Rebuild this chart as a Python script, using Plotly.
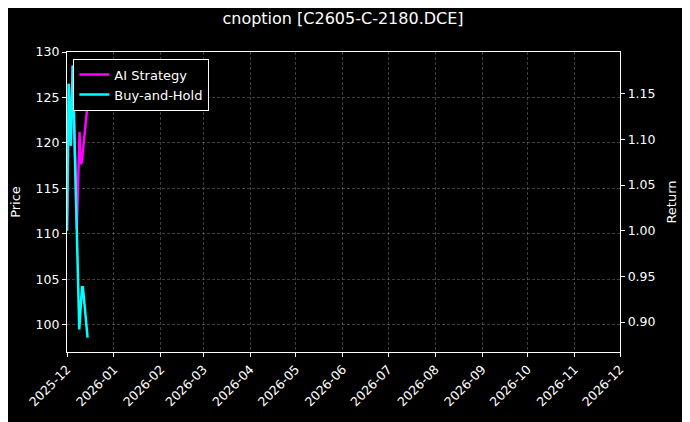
import plotly.graph_objects as go

# buy-and-hold return curve
bh_dates = ["2025-12-01 00:00", "2025-12-02 04:00", "2025-12-03 12:00", "2025-12-04 19:00",
            "2025-12-09 02:00", "2025-12-10 22:00", "2025-12-11 12:00", "2025-12-14 14:00"]
bh_values = [1.000, 1.161, 1.093, 1.181, 0.892, 0.938, 0.938, 0.883]

# AI strategy return curve (tracks buy-and-hold until it splits off)
ai_dates = ["2025-12-01 00:00", "2025-12-02 04:00", "2025-12-03 12:00", "2025-12-04 19:00",
            "2025-12-07 11:00", "2025-12-09 07:00", "2025-12-10 00:00", "2025-12-10 19:00",
            "2025-12-14 14:00"]
ai_values = [1.000, 1.161, 1.093, 1.181, 1.002, 1.108, 1.073, 1.075, 1.139]

month_ticks = ["2025-12-01", "2026-01-01", "2026-02-01", "2026-03-01", "2026-04-01",
               "2026-05-01", "2026-06-01", "2026-07-01", "2026-08-01", "2026-09-01",
               "2026-10-01", "2026-11-01", "2026-12-01"]
month_labels = [t[:7] for t in month_ticks]
price_ticks = [100, 105, 110, 115, 120, 125, 130]
return_ticks = [0.90, 0.95, 1.00, 1.05, 1.10, 1.15]

font = dict(family="DejaVu Sans", color="white", size=12.5)
grid = "rgba(150,150,150,0.4)"

# page has an 8px body margin, so everything is shifted up/left by 8px
fig = go.Figure()
# empty trace so the price axis is drawn
fig.add_trace(go.Scatter(x=[bh_dates[0]], y=[None], mode="lines", showlegend=False,
                         hoverinfo="skip", yaxis="y"))
fig.add_trace(go.Scatter(x=ai_dates, y=ai_values, name="AI Strategy", mode="lines",
                         line=dict(color="#ff00ff", width=2.5), yaxis="y2"))
fig.add_trace(go.Scatter(x=bh_dates, y=bh_values, name="Buy-and-Hold", mode="lines",
                         line=dict(color="#00ffff", width=2.5), yaxis="y2"))

fig.update_layout(
    width=690, height=422,
    paper_bgcolor="black", plot_bgcolor="black",
    font=font,
    margin=dict(l=59, r=78, t=44, b=78),
    title=dict(text="cnoption [C2605-C-2180.DCE]", x=(343 - 8) / 690, xanchor="center",
               y=1 - 10 / 422, yanchor="middle", font=dict(size=16, color="white")),
    showlegend=True,
    legend=dict(x=0.0115, y=0.978, xanchor="left", yanchor="top",
                bgcolor="black", bordercolor="white", borderwidth=1,
                font=dict(size=13, color="white"), tracegroupgap=0),
    xaxis=dict(type="date", range=["2025-12-01", "2026-12-01"], tickvals=month_ticks,
               ticktext=month_labels,
               tickangle=-45, ticks="outside", ticklen=4, tickcolor="white",
               showline=True, linecolor="white", linewidth=1.3, mirror=True,
               showgrid=True, gridcolor=grid, griddash="3px,2px", gridwidth=0.6,
               zeroline=False, automargin=False),
    yaxis=dict(title=dict(text="Price", standoff=16, font=dict(size=13)),
               range=[97.03, 130.0], tickvals=price_ticks,
               ticks="outside", ticklen=4, tickcolor="white",
               showline=True, linecolor="white", linewidth=1.3,
               showgrid=True, gridcolor=grid, griddash="3px,2px", gridwidth=0.6,
               zeroline=False, automargin=False),
    yaxis2=dict(title=dict(text="Return", standoff=12, font=dict(size=13)),
                overlaying="y", side="right", anchor="x",
                range=[0.8672, 1.1957], tickvals=return_ticks, tickformat=".2f",
                ticks="outside", ticklen=4, tickcolor="white",
                showline=True, linecolor="white", linewidth=1.3,
                showgrid=False, zeroline=False, automargin=False),
)

fig.write_html("out.html")
